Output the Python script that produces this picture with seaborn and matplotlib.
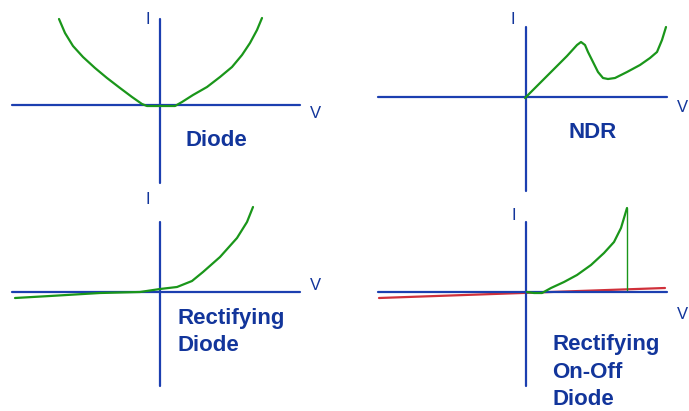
import matplotlib.pyplot as plt
import numpy as np
import pandas as pd
import seaborn as sns

sns.set_theme(style='white')
plt.rcParams['font.family'] = ['Liberation Sans', 'DejaVu Sans']

AXIS_BLUE = '#1c3fb0'
TEXT_BLUE = '#12359b'
GREEN = '#1a961a'
RED = '#d0303a'

# curves (V, I in arbitrary units, origin at axis crossing)
diode_v = [-1.01, -0.95, -0.87, -0.77, -0.65, -0.53, -0.40, -0.28, -0.18, -0.13,
           0.15, 0.22, 0.33, 0.47, 0.60, 0.72, 0.82, 0.90, 0.97, 1.02]
diode_i = [0.86, 0.72, 0.59, 0.48, 0.37, 0.27, 0.17, 0.08, 0.01, -0.01,
           -0.01, 0.03, 0.10, 0.18, 0.28, 0.38, 0.50, 0.62, 0.75, 0.87]

ndr_v = [-0.01, 0.14, 0.27, 0.41, 0.51, 0.55, 0.59, 0.62, 0.67, 0.72,
         0.77, 0.82, 0.89, 1.01, 1.14, 1.24, 1.31, 1.36, 1.40]
ndr_i = [-0.01, 0.14, 0.27, 0.41, 0.52, 0.55, 0.52, 0.45, 0.35, 0.25,
         0.19, 0.18, 0.19, 0.25, 0.32, 0.39, 0.45, 0.57, 0.70]

rect_v = [-1.45, -1.10, -0.60, -0.20, 0.0, 0.17, 0.32, 0.43, 0.60, 0.77, 0.87, 0.93]
rect_i = [-0.06, -0.04, -0.01, 0.0, 0.03, 0.05, 0.11, 0.20, 0.35, 0.54, 0.70, 0.85]

onoff_v = [0.01, 0.08, 0.16, 0.25, 0.38, 0.51, 0.65, 0.78, 0.88, 0.95, 1.01]
onoff_i = [0.0, -0.01, -0.01, 0.04, 0.10, 0.17, 0.27, 0.39, 0.50, 0.64, 0.84]
onoff_drop_v = [1.01, 1.01]
onoff_drop_i = [0.84, 0.02]
off_v = [-1.47, 1.39]
off_i = [-0.06, 0.04]

titles = ['Diode', 'NDR', 'Rectifying\nDiode', 'Rectifying\nOn-Off\nDiode']

W, H = 689, 411
fig = plt.figure(figsize=(W / 100, H / 100), dpi=100)


def panel(box, origin, v_span, i_span):
    # box / origin in pixels, 100 px = 1 unit
    x0, y0, x1, y1 = box
    ox, oy = origin
    ax = fig.add_axes([x0 / W, 1 - y1 / H, (x1 - x0) / W, (y1 - y0) / H])
    ax.set_xlim((x0 - ox) / 100, (x1 - ox) / 100)
    ax.set_ylim((oy - y1) / 100, (oy - y0) / 100)
    ax.axis('off')
    ax.plot(v_span, [0, 0], color=AXIS_BLUE, lw=1.6, zorder=1)
    ax.plot([0, 0], i_span, color=AXIS_BLUE, lw=1.6, zorder=1)
    return ax


def curve(ax, v, i, color, lw=1.6, z=2):
    df = pd.DataFrame({'V': v, 'I': i})
    sns.lineplot(data=df, x='V', y='I', sort=False, estimator=None,
                 color=color, lw=lw, ax=ax, zorder=z,
                 solid_joinstyle='round', solid_capstyle='round')
    ax.set_xlabel('')
    ax.set_ylabel('')


def labels(ax, ipos, vpos, tpos, title):
    ax.text(*ipos, 'I', color=TEXT_BLUE, fontsize=12, ha='center', va='center', clip_on=False)
    ax.text(*vpos, 'V', color=TEXT_BLUE, fontsize=12, ha='left', va='center', clip_on=False)
    ax.text(*tpos, title, color=TEXT_BLUE, fontsize=16, fontweight='bold',
            ha='left', va='center', linespacing=1.42, clip_on=False)


# top left: diode
ax1 = panel((0, 0, 344, 197), (160, 105), [-1.48, 1.40], [-0.78, 0.86])
curve(ax1, diode_v, diode_i, GREEN)
labels(ax1, (-0.12, 0.86), (1.50, -0.08), (0.26, -0.35), titles[0])

# top right: NDR
ax2 = panel((344, 0, 689, 197), (526, 97), [-1.48, 1.41], [-0.94, 0.70])
curve(ax2, ndr_v, ndr_i, GREEN)
labels(ax2, (-0.13, 0.78), (1.51, -0.10), (0.42, -0.36), titles[1])

# bottom left: rectifying diode
ax3 = panel((0, 197, 344, 411), (160, 292), [-1.48, 1.40], [-0.94, 0.70])
curve(ax3, rect_v, rect_i, GREEN)
labels(ax3, (-0.12, 0.93), (1.50, 0.07), (0.18, -0.40), titles[2])

# bottom right: rectifying on-off diode
ax4 = panel((344, 197, 689, 411), (526, 292), [-1.48, 1.41], [-0.94, 0.70])
curve(ax4, off_v, off_i, RED, z=0.5)
curve(ax4, onoff_v, onoff_i, GREEN)
curve(ax4, onoff_drop_v, onoff_drop_i, GREEN, lw=1.0)
labels(ax4, (-0.12, 0.76), (1.51, -0.22), (0.26, -0.80), titles[3])

fig.savefig('out.png', dpi=100)
